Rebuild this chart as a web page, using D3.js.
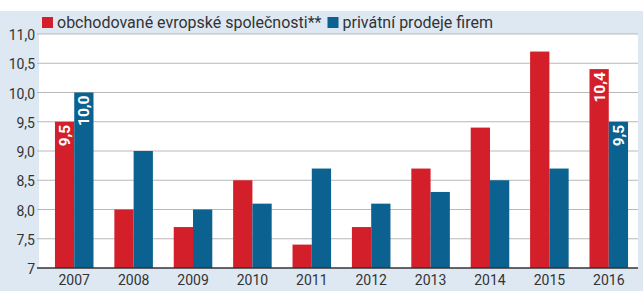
<!DOCTYPE html>
<html>
<head>
<meta charset="utf-8">
<script src="https://cdn.jsdelivr.net/npm/d3@7"></script>
<style>
  html, body { margin: 0; padding: 0; background: #ffffff; }
  svg { display: block; }
  text { font-family: Roboto, "Noto Sans", sans-serif; }
</style>
</head>
<body>
<svg id="chart" width="643" height="291"></svg>
<script>
const years = ["2007","2008","2009","2010","2011","2012","2013","2014","2015","2016"];
const tradedValues = [9.5, 8.0, 7.7, 8.5, 7.4, 7.7, 8.7, 9.4, 10.7, 10.4];
const privateValues = [10.0, 9.0, 8.0, 8.1, 8.7, 8.1, 8.3, 8.5, 8.7, 9.5];
const seriesNames = ["obchodované evropské společnosti**", "privátní prodeje firem"];
const seriesColors = ["#d31f2a", "#0b6290"];
const yTicks = [7, 7.5, 8, 8.5, 9, 9.5, 10, 10.5, 11];
const yTickLabels = ["7", "7,5", "8,0", "8,5", "9,0", "9,5", "10,0", "10,5", "11,0"];
const barLabels = [
  { year: "2007", series: 0, text: "9,5" },
  { year: "2007", series: 1, text: "10,0" },
  { year: "2016", series: 0, text: "10,4" },
  { year: "2016", series: 1, text: "9,5" }
];

const svg = d3.select("#chart");
const W = 643, H = 291;
const plotLeft = 39, plotRight = 638, plotTop = 34, plotBottom = 268;

// background
svg.append("rect").attr("x", 0).attr("y", 0).attr("width", W).attr("height", H).attr("fill", "#ffffff");
svg.append("rect").attr("x", 0).attr("y", 11).attr("width", W).attr("height", H - 11).attr("fill", "#dde8f3");
svg.append("rect").attr("x", plotLeft).attr("y", plotTop).attr("width", plotRight - plotLeft)
  .attr("height", plotBottom - plotTop).attr("fill", "#ffffff");

const y = d3.scaleLinear().domain([7, 11]).range([plotBottom, plotTop]);
const x0 = d3.scaleBand().domain(years).range([41, 642]).paddingInner(0.351).paddingOuter(0.235);
const x1 = d3.scaleBand().domain([0, 1]).range([0, x0.bandwidth()]);

// gridlines
yTicks.forEach(t => {
  if (t === 7) return;
  svg.append("line").attr("x1", 37).attr("x2", plotRight).attr("y1", y(t)).attr("y2", y(t))
    .attr("stroke", "#b9b9b9").attr("stroke-width", 1);
});
const axisG = svg.append("g").attr("transform", `translate(37,0)`)
  .call(d3.axisLeft(y).tickValues(yTicks).tickFormat((d, i) => yTickLabels[i]).tickSize(0).tickPadding(2));
axisG.select(".domain").remove();
axisG.selectAll("text").attr("font-size", 14).attr("fill", "#333").attr("font-family", "Roboto, sans-serif")
  .attr("dy", "0.4em");

// bars
const data = years.map((yr, i) => ({ year: yr, vals: [tradedValues[i], privateValues[i]] }));
const groups = svg.append("g").selectAll("g").data(data).join("g")
  .attr("transform", d => `translate(${x0(d.year)},0)`);
groups.selectAll("rect").data(d => d.vals.map((v, s) => ({ v, s }))).join("rect")
  .attr("x", d => x1(d.s)).attr("width", x1.bandwidth())
  .attr("y", d => y(d.v)).attr("height", d => y(7) - y(d.v))
  .attr("fill", d => seriesColors[d.s]);

// bar labels
barLabels.forEach(l => {
  const i = years.indexOf(l.year);
  const v = l.series === 0 ? tradedValues[i] : privateValues[i];
  const cx = x0(l.year) + x1(l.series) + x1.bandwidth() / 2;
  const cy = y(v) + 3;
  svg.append("text").attr("transform", `translate(${cx},${cy}) rotate(-90)`)
    .attr("text-anchor", "end").attr("dy", "0.36em")
    .attr("font-size", 15.5).attr("font-weight", "bold").attr("fill", "#ffffff").text(l.text);
});

// baseline axis
svg.append("line").attr("x1", 37).attr("x2", plotRight).attr("y1", y(7)).attr("y2", y(7))
  .attr("stroke", "#333").attr("stroke-width", 1.5);
const xAxisG = svg.append("g").attr("transform", `translate(0,${plotBottom})`)
  .call(d3.axisBottom(x0).tickSize(0).tickPadding(6));
xAxisG.select(".domain").remove();
xAxisG.selectAll("text").attr("font-size", 14).attr("fill", "#333").attr("font-family", "Roboto, sans-serif")
  .attr("dy", "0.82em");

// legend
const legend = svg.append("g");
let lx = 42;
seriesNames.forEach((name, s) => {
  legend.append("rect").attr("x", lx).attr("y", 17).attr("width", 11).attr("height", 11).attr("fill", seriesColors[s]);
  const t = legend.append("text").attr("x", lx + 15).attr("y", 27.5).attr("font-size", 16).attr("fill", "#333").text(name);
  lx = lx + 15 + t.node().getComputedTextLength() + 6;
});
</script>
</body>
</html>
